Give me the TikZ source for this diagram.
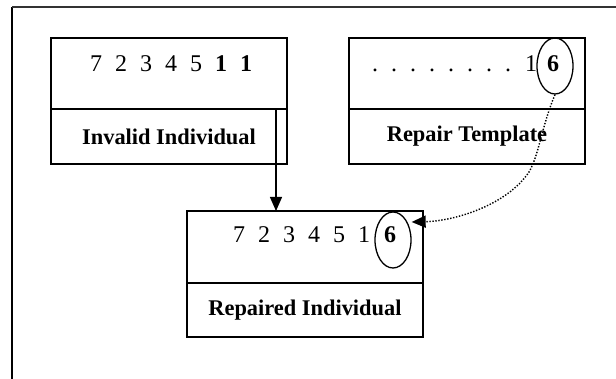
\documentclass[tikz,border=0pt]{standalone}
\usepackage{fontspec}
\setmainfont{Liberation Serif}
\usetikzlibrary{arrows.meta,shapes.geometric}

% gap between the genes of a chromosome
\newcommand{\gn}{\hspace{13pt}}

\begin{document}
\begin{tikzpicture}[x=1pt,y=-1pt,
  cell/.style={draw,line width=1.6pt,minimum width=236pt,inner sep=0pt,outer sep=0pt},
  genebox/.style={cell,minimum height=71pt},
  labelbox/.style={cell,minimum height=55pt,font=\fontsize{22.4}{25}\selectfont\bfseries},
  genes/.style={anchor=base west,inner sep=0pt,font=\fontsize{24}{28}\selectfont},
  ring/.style={draw,ellipse,line width=1.3pt,inner sep=0pt,minimum width=36pt,minimum height=56pt},
  tip/.style={-{Triangle[length=14pt,width=12pt]}}
]
\useasboundingbox (0,0) rectangle (616,379);

% frame
\coordinate (fr-tl) at (12,7);
\coordinate (fr-bl) at (12,379);
\coordinate (fr-tr) at (616,7);
\draw[line width=1.8pt] (fr-bl) -- (fr-tl);
\draw[line width=1.8pt,black!80] (fr-tl) -- (fr-tr);

% invalid individual
\node[genebox,anchor=north west] (inv) at (51,38) {};
\node[labelbox,anchor=north] (invlab) at (inv.south) {Invalid Individual};
\node[genes] (invg) at (90,72) {7\gn 2\gn 3\gn 4\gn 5\gn \textbf{1}\gn \textbf{1}};

% repair template
\node[genebox,anchor=north west] (tpl) at (349,38) {};
\node[labelbox,anchor=north] (tpllab) at (tpl.south) {Repair Template};
\node[genes] (tplg) at (372,72) {.\gn .\gn .\gn .\gn .\gn .\gn .\gn .\hspace{14pt}1\hspace{10pt}\textbf{6}};
\node[ring] (t6) at (555,66) {};

% repaired individual
\node[genebox,anchor=north west,minimum height=72pt] (fix) at (187,211) {};
\node[labelbox,anchor=north,minimum height=54pt] (fixlab) at (fix.south) {Repaired Individual};
\node[genes] (fixg) at (233,243) {7\gn 2\gn 3\gn 4\gn 5\gn 1\hspace{14pt}\textbf{6}};
\node[ring] (f6) at (393,240) {};

% copy the valid part down
\coordinate (drop) at (276,109);
\draw[line width=1.3pt,tip] (drop) -- (drop |- fix.north);

% take the missing gene from the template
\coordinate (bend) at (529,172);
\draw[line width=1.4pt,dash pattern=on 1.4pt off 1.6pt,tip]
  (t6.south) .. controls (542,125) and (539,155) .. (bend)
  .. controls (507,205) and (455,221) .. ([yshift=18pt]f6.east);
\end{tikzpicture}
\end{document}
